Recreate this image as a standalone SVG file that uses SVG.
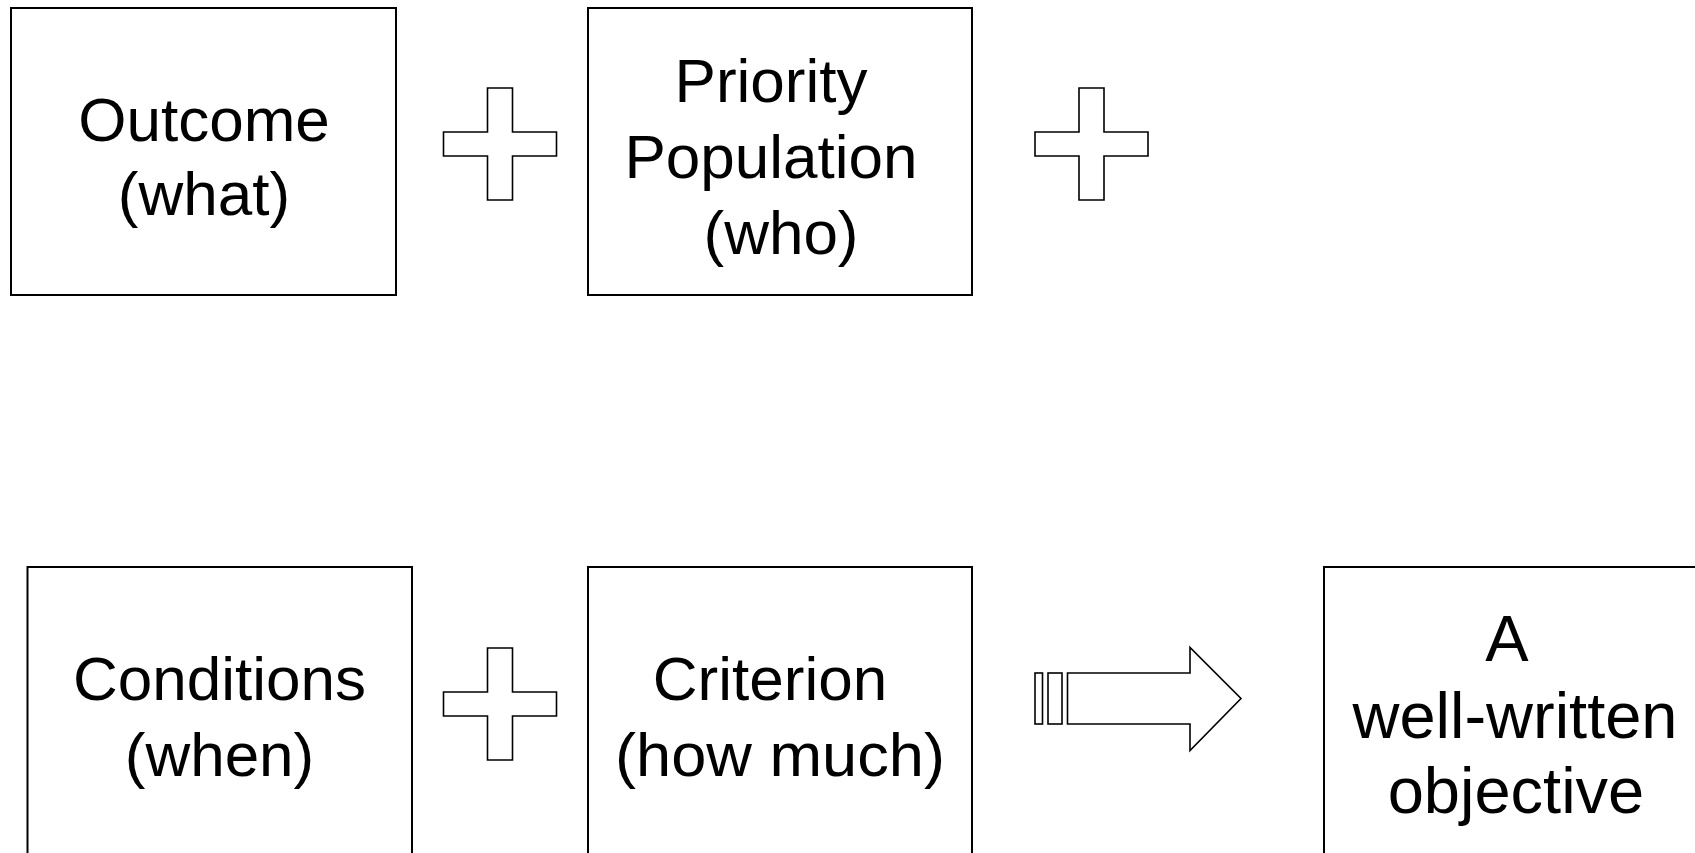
<svg xmlns="http://www.w3.org/2000/svg" width="1695" height="853" viewBox="0 0 1695 853">
<style>
.box{fill:#fff;stroke:#000;stroke-width:2}
.sym{fill:#fff;stroke:#000;stroke-width:1.6;stroke-linejoin:miter}
.t{font-family:"Liberation Sans",Arial,sans-serif;font-size:62px;fill:#000;text-anchor:middle}
.t5{font-size:65px}
</style>
<defs>
<path id="plus" d="M-12.5,-56 H12.5 V-12 H56.5 V12 H12.5 V56 H-12.5 V12 H-56.5 V-12 H-12.5 Z"/>
</defs>
<rect width="1695" height="853" fill="#fff"/>
<g id="n-outcome">
<rect class="box" x="11" y="8" width="385" height="287"/>
<text class="t" x="204" y="141">Outcome</text>
<text class="t" x="204" y="215">(what)</text>
</g>
<g id="n-priority">
<rect class="box" x="588" y="8" width="384" height="287"/>
<text class="t" x="771" y="102">Priority</text>
<text class="t" x="771" y="178">Population</text>
<text class="t" x="781" y="254">(who)</text>
</g>
<g id="n-conditions">
<rect class="box" x="27.5" y="567" width="384.5" height="300"/>
<text class="t" x="219.5" y="700">Conditions</text>
<text class="t" x="219.5" y="776">(when)</text>
</g>
<g id="n-criterion">
<rect class="box" x="588" y="567" width="384" height="300"/>
<text class="t" x="770" y="700">Criterion</text>
<text class="t" x="780" y="776" textLength="330" lengthAdjust="spacingAndGlyphs">(how much)</text>
</g>
<g id="n-objective">
<rect class="box" x="1324" y="567" width="385" height="300"/>
<text class="t t5" x="1507" y="661">A</text>
<text class="t t5" x="1515" y="738">well-written</text>
<text class="t t5" x="1516" y="813">objective</text>
</g>
<g id="connectors">
<use href="#plus" class="sym" x="500" y="144"/>
<use href="#plus" class="sym" x="1091.5" y="144"/>
<use href="#plus" class="sym" x="500" y="704"/>
<rect class="sym" x="1035" y="673" width="7.5" height="51"/>
<rect class="sym" x="1048" y="673" width="14" height="51"/>
<path class="sym" d="M1067.5,673 H1190 V647.5 L1241,698.5 L1190,750.5 V724 H1067.5 Z"/>
</g>
</svg>
